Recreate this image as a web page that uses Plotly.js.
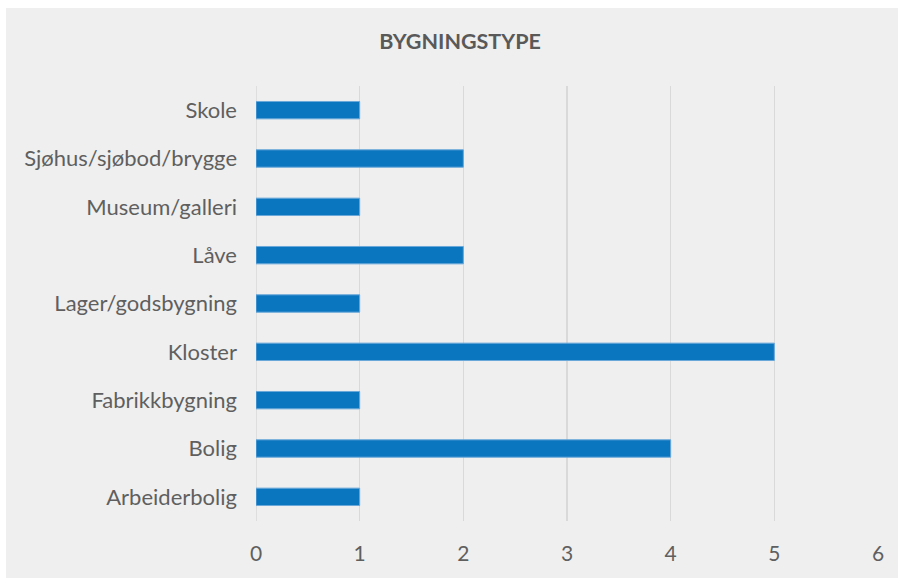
<!DOCTYPE html>
<html>
<head>
<meta charset="utf-8">
<script src="https://cdn.plot.ly/plotly-3.0.1.min.js"></script>
<style>
  body { margin: 0; background: #ffffff; }
  #grafico { position: absolute; left: 6px; top: 8px; width: 892px; height: 570px; }
</style>
</head>
<body>
<div id="grafico"></div>
<script>
// bygningstyper, nederst til øverst
var kategorier = ['Arbeiderbolig', 'Bolig', 'Fabrikkbygning', 'Kloster', 'Lager/godsbygning',
                  'Låve', 'Museum/galleri', 'Sjøhus/sjøbod/brygge', 'Skole'];
var antall = [1, 4, 1, 5, 1, 2, 1, 2, 1];
var tickVerdier = [0, 1, 2, 3, 4, 5, 6];

var dados = [{
    type: 'bar',
    orientation: 'h',
    x: antall,
    y: kategorier,
    width: 0.36,
    marker: {color: '#0a76bf', line: {color: '#6aa8da', width: 1}},
    hoverinfo: 'x+y'
}];

var layout = {
    width: 892,
    height: 570,
    paper_bgcolor: '#efefef',
    plot_bgcolor: '#efefef',
    margin: {l: 250, r: 20, t: 78, b: 57},
    font: {family: 'Lato, "Open Sans", sans-serif', color: '#5f5f5f'},
    title: {
        text: '<b>BYGNINGSTYPE</b>',
        font: {size: 21.5, color: '#595959'},
        x: 0.509, xref: 'container', xanchor: 'center',
        y: 0.941, yref: 'container', yanchor: 'middle'
    },
    xaxis: {
        range: [0, 6],
        tickvals: tickVerdier,
        showgrid: true,
        gridcolor: '#d9d9d9',
        gridwidth: 1.5,
        zeroline: false,
        showline: false,
        ticks: '',
        ticklabelstandoff: 18,
        tickfont: {size: 21, color: '#5f5f5f'}
    },
    yaxis: {
        type: 'category',
        categoryorder: 'array',
        categoryarray: kategorier,
        range: [-0.5, 8.5],
        showgrid: false,
        zeroline: false,
        showline: false,
        ticks: '',
        ticklabelstandoff: 18,
        tickfont: {size: 22, color: '#5f5f5f'}
    },
    shapes: [{
        type: 'line', xref: 'x', yref: 'paper',
        x0: 0, x1: 0, y0: 0, y1: 1,
        line: {color: '#d9d9d9', width: 1.5}, layer: 'below'
    }],
    showlegend: false
};

Plotly.newPlot('grafico', dados, layout, {displayModeBar: false, staticPlot: true});
</script>
</body>
</html>
